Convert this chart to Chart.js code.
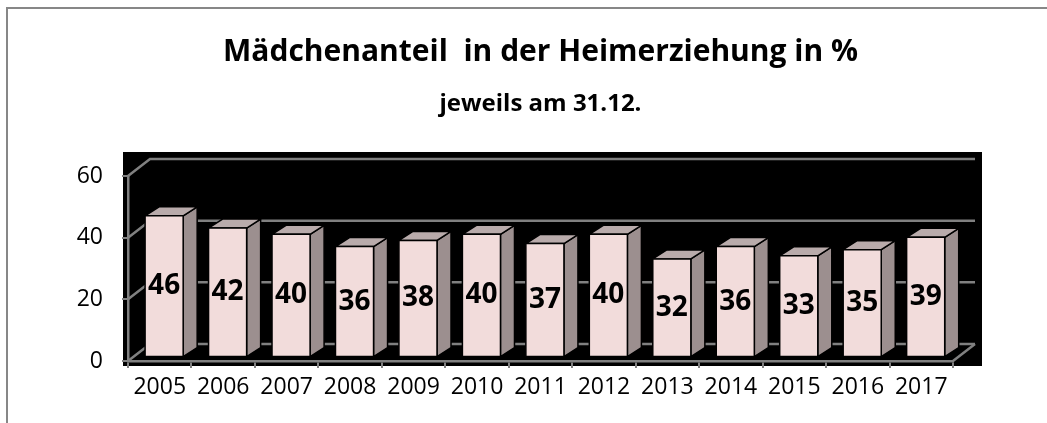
<!DOCTYPE html>
<html lang="de">
<head>
<meta charset="utf-8">
<title>Mädchenanteil in der Heimerziehung</title>
<script src="https://cdn.jsdelivr.net/npm/chart.js@4"></script>
<style>
    html, body { margin: 0; padding: 0; background: #ffffff; }
    #rahmen { width: 1047px; height: 423px; }
</style>
</head>
<body>
<div id="rahmen"><canvas id="grafik"></canvas></div>
<script>
"use strict";

// Daten: Mädchenanteil je Jahr (Stand 31.12.)
const jahre = ["2005", "2006", "2007", "2008", "2009", "2010", "2011", "2012", "2013", "2014", "2015", "2016", "2017"];
const anteile = [46, 42, 40, 36, 38, 40, 37, 40, 32, 36, 33, 35, 39];
const yWerte = [0, 20, 40, 60];

// Tiefe der Rückwand und der Säulen (3D-Effekt)
const WAND_X = 22;
const WAND_Y = -17;
const SAEULE_X = 14;
const SAEULE_Y = -9;
const VORNE = 0.2; // Säulen stehen etwas hinter der Vorderkante

// Rahmen, schwarze Fläche und die Linien an der Rückwand zeichnen.
const hintergrund = {
    id: "hintergrund",
    beforeDraw(chart) {
        const ctx = chart.ctx;
        const a = chart.chartArea;
        const yAchse = chart.scales.y;
        ctx.save();

        ctx.strokeStyle = "#878787";
        ctx.lineWidth = 2;
        ctx.beginPath();
        ctx.moveTo(7, chart.height);
        ctx.lineTo(7, 8);
        ctx.lineTo(chart.width, 8);
        ctx.stroke();

        ctx.fillStyle = "#000000";
        ctx.fillRect(a.left - 5, a.top - 24, a.right - a.left + 34, a.bottom - a.top + 29);

        ctx.strokeStyle = "#808080";
        ctx.lineWidth = 2.5;
        yWerte.forEach(function(w) {
            const py = yAchse.getPixelForValue(w);
            ctx.beginPath();
            ctx.moveTo(a.left, py);
            ctx.lineTo(a.left + WAND_X, py + WAND_Y);
            ctx.lineTo(a.right + WAND_X, py + WAND_Y);
            ctx.stroke();
        });

        // Boden rechts
        ctx.beginPath();
        ctx.moveTo(a.right, a.bottom);
        ctx.lineTo(a.right + WAND_X, a.bottom + WAND_Y);
        ctx.stroke();
        ctx.restore();
    }
};

// Säulen als Quader mit Beschriftung zeichnen.
const saeulen3d = {
    id: "saeulen3d",
    afterDatasetsDraw(chart) {
        const ctx = chart.ctx;
        const meta = chart.getDatasetMeta(0);
        ctx.save();
        ctx.lineWidth = 1.5;
        ctx.strokeStyle = "#000000";
        ctx.lineJoin = "round";

        meta.data.forEach(function(bar, i) {
            const links = bar.x - bar.width / 2 + WAND_X * VORNE;
            const rechts = links + bar.width;
            const oben = bar.y + WAND_Y * VORNE;
            const unten = bar.base + WAND_Y * VORNE;

            // Seitenfläche
            ctx.fillStyle = "#9c8f8f";
            ctx.beginPath();
            ctx.moveTo(rechts, oben);
            ctx.lineTo(rechts + SAEULE_X, oben + SAEULE_Y);
            ctx.lineTo(rechts + SAEULE_X, unten + SAEULE_Y);
            ctx.lineTo(rechts, unten);
            ctx.closePath();
            ctx.fill();
            ctx.stroke();

            // Deckfläche
            ctx.fillStyle = "#b9abab";
            ctx.beginPath();
            ctx.moveTo(links, oben);
            ctx.lineTo(links + SAEULE_X, oben + SAEULE_Y);
            ctx.lineTo(rechts + SAEULE_X, oben + SAEULE_Y);
            ctx.lineTo(rechts, oben);
            ctx.closePath();
            ctx.fill();
            ctx.stroke();

            // Vorderseite
            ctx.fillStyle = "#f2dcdb";
            ctx.fillRect(links, oben, rechts - links, unten - oben);
            ctx.strokeRect(links, oben, rechts - links, unten - oben);

            // Wert
            ctx.fillStyle = "#000000";
            ctx.font = "bold 28px 'Open Sans'";
            ctx.textAlign = "center";
            ctx.textBaseline = "middle";
            ctx.fillText(String(anteile[i]), (links + rechts) / 2, (oben + unten) / 2);
        });
        ctx.restore();
    }
};

window.onload = function() {
    const canvas = document.getElementById("grafik").getContext("2d");
    new Chart(canvas, {
        type: "bar",
        data: {
            labels: jahre,
            datasets: [{
                data: anteile,
                backgroundColor: "rgba(0,0,0,0)",
                borderWidth: 0,
                barPercentage: 0.6,
                categoryPercentage: 1
            }]
        },
        options: {
            responsive: true,
            maintainAspectRatio: false,
            animation: false,
            layout: { padding: { left: 0, right: 94, top: 0, bottom: 0 } },
            plugins: {
                legend: { display: false },
                tooltip: { enabled: false },
                title: {
                    display: true,
                    fullSize: false,
                    text: "Mädchenanteil  in der Heimerziehung in %",
                    color: "#000000",
                    font: { family: "Open Sans", size: 30, weight: "bold" },
                    padding: { top: 34, bottom: 19.6 }
                },
                subtitle: {
                    display: true,
                    fullSize: false,
                    text: "jeweils am 31.12.",
                    color: "#000000",
                    font: { family: "Open Sans", size: 24, weight: "bold" },
                    padding: { top: 0, bottom: 57.6 }
                }
            },
            scales: {
                x: {
                    grid: { drawOnChartArea: false, tickLength: 7, color: "#808080", lineWidth: 2 },
                    border: { color: "#808080", width: 2.5 },
                    ticks: {
                        color: "#000000",
                        font: { family: "Open Sans", size: 23 },
                        padding: 6,
                        maxRotation: 0,
                        autoSkip: false
                    },
                    afterFit(s) { s.height = 62; }
                },
                y: {
                    min: 0,
                    max: 60,
                    grid: { drawOnChartArea: false, tickLength: 6, color: "#808080", lineWidth: 2 },
                    border: { color: "#808080", width: 2.5 },
                    ticks: {
                        color: "#000000",
                        font: { family: "Open Sans", size: 23 },
                        padding: 19
                    },
                    afterBuildTicks(s) { s.ticks = yWerte.map(v => ({ value: v })); },
                    afterFit(s) { s.width = 128; }
                }
            }
        },
        plugins: [hintergrund, saeulen3d]
    });
};
</script>
</body>
</html>
